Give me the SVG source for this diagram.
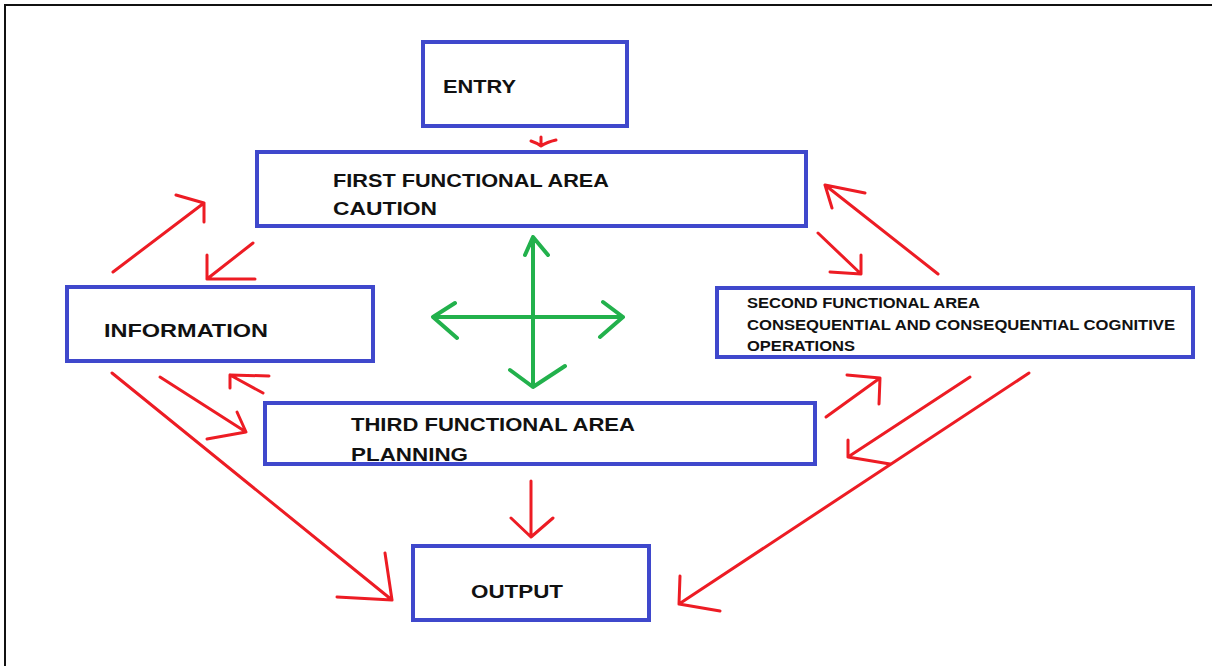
<svg xmlns="http://www.w3.org/2000/svg" width="1212" height="666" viewBox="0 0 1212 666">
<style>
.box{fill:#fff;stroke:#3f48cc;stroke-width:4}
.t{font-family:"Liberation Sans",Arial,sans-serif;font-weight:bold;fill:#111}
.t20{font-size:19px}
.t15{font-size:14.5px}
.r{stroke:#ed1c24;stroke-width:3;fill:none;stroke-linecap:round;stroke-linejoin:round}
.g{stroke:#22b14c;stroke-width:4;fill:none;stroke-linecap:round;stroke-linejoin:round}
</style>
<rect x="0" y="0" width="1212" height="666" fill="#fff"/>
<rect x="5" y="5" width="1230" height="680" fill="none" stroke="#111" stroke-width="2"/>

<g id="entry">
<rect class="box" x="423" y="42" width="204" height="84"/>
<text class="t t20" x="443" y="93" textLength="73" lengthAdjust="spacingAndGlyphs">ENTRY</text>
</g>
<g id="first">
<rect class="box" x="257" y="152" width="549" height="74"/>
<text class="t t20" x="333" y="187" textLength="276" lengthAdjust="spacingAndGlyphs">FIRST FUNCTIONAL AREA</text>
<text class="t t20" x="333" y="215" textLength="104" lengthAdjust="spacingAndGlyphs">CAUTION</text>
</g>
<g id="information">
<rect class="box" x="67" y="287" width="306" height="74"/>
<text class="t t20" x="104" y="337" textLength="164" lengthAdjust="spacingAndGlyphs">INFORMATION</text>
</g>
<g id="second">
<rect class="box" x="717" y="288" width="476" height="69"/>
<text class="t t15" x="747" y="308" textLength="233" lengthAdjust="spacingAndGlyphs">SECOND FUNCTIONAL AREA</text>
<text class="t t15" x="747" y="330" textLength="428" lengthAdjust="spacingAndGlyphs">CONSEQUENTIAL AND CONSEQUENTIAL COGNITIVE</text>
<text class="t t15" x="747" y="351" textLength="108" lengthAdjust="spacingAndGlyphs">OPERATIONS</text>
</g>
<g id="third">
<rect class="box" x="265" y="403" width="550" height="61"/>
<text class="t t20" x="351" y="431" textLength="284" lengthAdjust="spacingAndGlyphs">THIRD FUNCTIONAL AREA</text>
<text class="t t20" x="351" y="461" textLength="117" lengthAdjust="spacingAndGlyphs">PLANNING</text>
</g>
<g id="output">
<rect class="box" x="413" y="546" width="236" height="74"/>
<text class="t t20" x="471" y="598" textLength="92" lengthAdjust="spacingAndGlyphs">OUTPUT</text>
</g>

<g id="connectors">
<path class="r" d="M541 137 L541 146 M531 141 Q537 143 541 146 Q547 142 556 140"/>
<path class="r" d="M113 272 L204 203 M176 195 L204 203 L204 222"/>
<path class="r" d="M253 243 L207 279 M207 255 L207 279 L255 279"/>
<path class="r" d="M112 373 L392 600 M385 553 L392 600 L337 597"/>
<path class="r" d="M160 377 L246 432 M237 412 L246 432 L207 439"/>
<path class="r" d="M263 393 L230 375 L230 388 M230 375 L269 376"/>
<path class="r" d="M531 481 L531 537 M511 518 L531 537 L553 518"/>
<path class="r" d="M818 233 L861 274 L861 255 M861 274 L830 272"/>
<path class="r" d="M938 274 L825 185 L865 193 M825 185 L832 208"/>
<path class="r" d="M826 417 L880 378 L847 375 M880 378 L879 404"/>
<path class="r" d="M970 377 L848 457 L848 440 M848 457 L890 464"/>
<path class="r" d="M1029 373 L679 604 L680 576 M679 604 L720 611"/>
<path class="g" d="M533 237 L533 387 M525 255 L533 237 L548 255 M510 370 L533 387 L565 366"/>
<path class="g" d="M433 317 L623 317 M455 303 L433 317 L457 338 M603 302 L623 317 L600 337"/>
</g>
</svg>
